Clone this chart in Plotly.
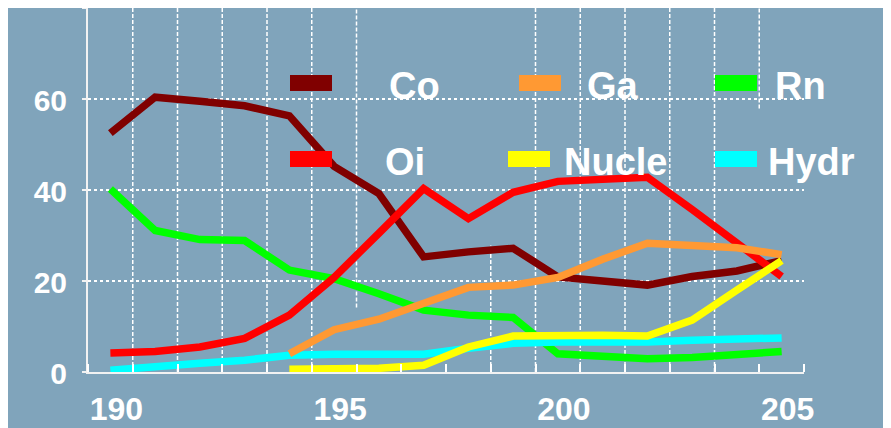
import plotly.graph_objects as go

# ---------------- data ----------------
years = [1900, 1910, 1920, 1930, 1940, 1950, 1960, 1970,
         1980, 1990, 2000, 2010, 2020, 2030, 2040, 2050]
tick_years = [1900, 1950, 2000, 2050]
tick_labels = ["190", "195", "200", "205"]

co = [52.5, 60.4, 59.5, 58.5, 56.3, 45.2, 39.2, 25.3, 26.4, 27.2, 20.9, 20.1, 19.1, 21.0, 22.2, 24.5]
oi = [4.2, 4.5, 5.5, 7.4, 12.5, 20.8, 30.5, 40.3, 33.7, 39.5, 41.9, 42.3, 42.8, 35.7, 28.4, 21.0]
ga = [None, None, None, None, 4.0, 9.3, 11.6, 15.1, 18.6, 19.1, 20.8, 24.8, 28.3, 27.8, 27.3, 25.8]
nucle = [None, None, None, None, 0.6, 0.8, 0.8, 1.5, 5.5, 7.9, 8.1, 8.1, 7.9, 11.4, 18.0, 24.5]
rn = [40.2, 31.1, 29.1, 28.9, 22.4, 20.5, 17.2, 13.6, 12.5, 12.0, 4.0, 3.6, 2.9, 3.2, 3.7, 4.5]
hydr = [0.4, 1.3, 1.9, 2.6, 3.7, 3.9, 3.9, 3.9, 5.2, 6.3, 6.6, 6.5, 6.6, 7.0, 7.3, 7.5]

series_values = {"Co": co, "Oi": oi, "Ga": ga, "Nucle": nucle, "Rn": rn, "Hydr": hydr}
series_colors = {"Co": "#800000", "Oi": "#FF0000", "Ga": "#FF9933",
                 "Nucle": "#FFFF00", "Rn": "#00FF00", "Hydr": "#00FFFF"}
draw_order = ["Co", "Rn", "Hydr", "Oi", "Ga", "Nucle"]

# legend grid (row, column)
legend_rows = [["Co", "Ga", "Rn"], ["Oi", "Nucle", "Hydr"]]

# ---------------- layout geometry ----------------
OFF = 8                      # page body margin of the html page
W, H = 891 - OFF, 428 - OFF  # figure size
ML, MR, MT, MB = 80, 87, 0, 56
PW, PH = W - ML - MR, H - MT - MB
BG = "#80A4BB"
FONT = "Arial, 'Liberation Sans', sans-serif"


def px_x(p):  # screenshot pixel -> paper x
    return (p - OFF - ML) / PW


def px_y(p):  # screenshot pixel -> paper y
    return (H - MB - (p - OFF)) / PH


fig = go.Figure()
for name in draw_order:
    fig.add_trace(go.Scatter(
        x=years, y=series_values[name], name=name, mode="lines",
        line=dict(color=series_colors[name], width=7.5),
        showlegend=False, connectgaps=False,
    ))

shapes = []
# vertical dashed gridlines between categories (partially visible as in reference)
vgrid = [(1905, 0, 80), (1915, 0, 80), (1925, 0, 80), (1935, 0, 80), (1945, 0, 80),
         (1955, 14.2, 80), (1985, 0, 27.8), (1995, 0, 80), (2005, 0, 80),
         (2015, 0, 80), (2025, 0, 80), (2035, 0, 80), (2045, 57.9, 80)]
for xv, y0, y1 in vgrid:
    shapes.append(dict(type="line", xref="x", yref="y", layer="below",
                       x0=xv, x1=xv, y0=y0, y1=y1,
                       line=dict(color="white", width=1.5, dash="4px,2px")))

# legend keys + labels
key_left = [[290, 519, 715], [290, 508, 715]]
key_cy = [83, 159]
text_cx = [[414, 613, 800], [405, 615, 811]]
annotations = []
for r, row in enumerate(legend_rows):
    for c, name in enumerate(row):
        x0 = key_left[r][c]
        shapes.append(dict(type="rect", xref="paper", yref="paper", layer="above",
                           x0=px_x(x0), x1=px_x(x0 + 42),
                           y0=px_y(key_cy[r] + 8), y1=px_y(key_cy[r] - 8),
                           fillcolor=series_colors[name], line=dict(width=0)))
        annotations.append(dict(xref="paper", yref="paper",
                                x=px_x(text_cx[r][c]), y=px_y(key_cy[r] + 3),
                                text=name, showarrow=False,
                                xanchor="center", yanchor="middle",
                                font=dict(family=FONT, size=38, color="white", weight="bold")))

fig.update_layout(
    width=W, height=H,
    margin=dict(l=ML, r=MR, t=MT, b=MB, pad=0, autoexpand=False),
    paper_bgcolor=BG, plot_bgcolor=BG,
    shapes=shapes, annotations=annotations,
    showlegend=False,
    font=dict(family=FONT, color="white"),
)

fig.update_xaxes(
    range=[1895, 2055], tickmode="array", tickvals=tick_years, ticktext=tick_labels,
    ticks="", showgrid=False, zeroline=False, automargin=False,
    showline=True, linecolor="#F2F2F2", linewidth=2,
    tickfont=dict(family=FONT, size=32, color="white", weight="bold"),
    ticklabelshift=6, ticklabelstandoff=8,
    minor=dict(tickmode="linear", tick0=1895, dtick=10, ticks="inside",
               ticklen=8, tickwidth=1.5, tickcolor="white", showgrid=False),
)
fig.update_yaxes(
    range=[0, 80], tickmode="array", tickvals=[0, 20, 40, 60, 80],
    ticktext=["0", "20", "40", "60", ""],
    ticks="outside", ticklen=4, tickcolor="#F2F2F2", tickwidth=1.5,
    showgrid=True, gridcolor="white", gridwidth=2, griddash="3px,3px",
    zeroline=False, showline=True, linecolor="#F2F2F2", linewidth=2,
    automargin=False,
    tickfont=dict(family=FONT, size=30, color="white", weight="bold"),
    ticklabelshift=1, ticklabelstandoff=9,
)

fig.write_html("out.html")
